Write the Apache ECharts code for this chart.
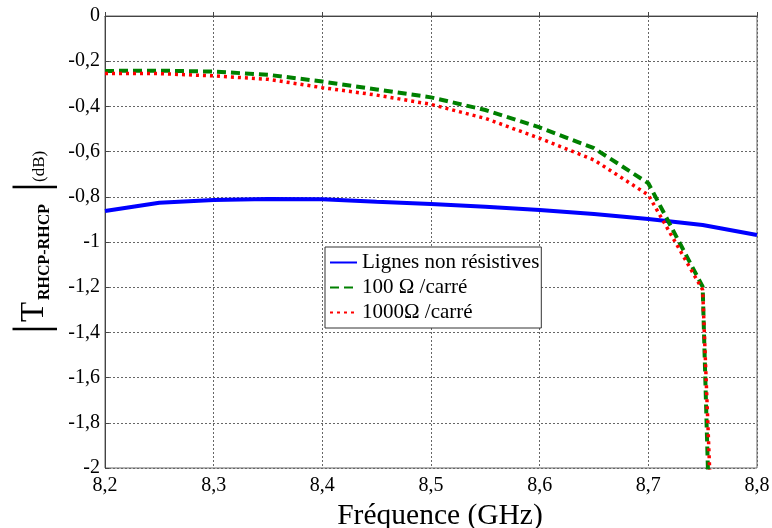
<!DOCTYPE html>
<html>
<head>
<meta charset="utf-8">
<script src="https://cdn.jsdelivr.net/npm/echarts@6/dist/echarts.min.js"></script>
<style>html,body{margin:0;padding:0;background:#fff}#c{width:772px;height:528px}</style>
</head>
<body>
<div id="c"></div>
<script>
var freq = [8.2, 8.25, 8.3, 8.35, 8.4, 8.45, 8.5, 8.55, 8.6, 8.65, 8.7, 8.75, 8.8];
var blueVals = [-0.863, -0.826, -0.814, -0.81, -0.811, -0.822, -0.832, -0.844, -0.858, -0.876, -0.898, -0.925, -0.969];
var freqRes = [8.2, 8.25, 8.3, 8.35, 8.4, 8.45, 8.5, 8.55, 8.6, 8.65, 8.7, 8.75];
var greenVals = [-0.243, -0.242, -0.246, -0.26, -0.29, -0.325, -0.36, -0.416, -0.493, -0.585, -0.74, -1.198];
var redVals = [-0.254, -0.255, -0.265, -0.28, -0.317, -0.35, -0.391, -0.453, -0.541, -0.637, -0.792, -1.212];
var greenTailFreq = 8.756, greenTailVal = -2.2;
var redTailFreq = 8.758, redTailVal = -2.2;
var seriesNames = ['Lignes non résistives', '100 Ω /carré', '1000Ω /carré'];
var xTitle = 'Fréquence (GHz)';

function pairs(xs, ys) { return xs.map(function (x, i) { return [x, ys[i]]; }); }
var blueData = pairs(freq, blueVals);
var greenData = pairs(freqRes, greenVals).concat([[greenTailFreq, greenTailVal]]);
var redData = pairs(freqRes, redVals).concat([[redTailFreq, redTailVal]]);

function fmt(v) { return String(Number(v.toFixed(1))).replace('.', ','); }

var serif = 'Liberation Serif';
var chart = echarts.init(document.getElementById('c'));
// y-axis title as rotated text group (local x runs along the text, local +y points to screen right)
var titleGroup = {
  type: 'group', x: 47, y: 330, rotation: Math.PI / 2,
  children: [
    { type: 'text', x: 1, y: -13, style: { text: '|', font: '48px ' + serif, fill: '#000', textAlign: 'center', textVerticalAlign: 'middle' } },
    { type: 'text', x: 8, y: 3.6, style: { text: 'T', font: '33px ' + serif, fill: '#000', textAlign: 'left', textVerticalAlign: 'bottom' } },
    { type: 'text', x: 30, y: 5.5, style: { text: 'RHCP-RHCP', font: 'bold 16px ' + serif, fill: '#000', textAlign: 'left', textVerticalAlign: 'bottom' } },
    { type: 'text', x: 143, y: -13, style: { text: '|', font: '48px ' + serif, fill: '#000', textAlign: 'center', textVerticalAlign: 'middle' } },
    { type: 'text', x: 148, y: 0.7, style: { text: '(dB)', font: '17px ' + serif, fill: '#000', textAlign: 'left', textVerticalAlign: 'bottom' } }
  ]
};

chart.setOption({
  animation: false,
  backgroundColor: '#fff',
  grid: { left: 105, right: 15, top: 16, bottom: 60, show: true, borderColor: '#666', borderWidth: 1,
          containLabel: false, outerBoundsMode: 'none' },
  legend: {
    left: 325, top: 247, orient: 'vertical',
    padding: [5, 2, 5, 4], itemGap: 4, itemWidth: 27, itemHeight: 14,
    backgroundColor: '#fff', borderColor: '#333', borderWidth: 1, borderRadius: 0,
    itemStyle: { opacity: 0, borderWidth: 0 },
    textStyle: { fontFamily: serif, fontSize: 21, color: '#000' },
    data: seriesNames
  },
  xAxis: {
    type: 'value', min: 8.2, max: 8.8, interval: 0.1,
    name: xTitle, nameLocation: 'middle', nameGap: 31,
    nameTextStyle: { fontFamily: serif, fontSize: 29.5, color: '#000', padding: [0, 0, 0, 18] },
    axisLine: { lineStyle: { color: '#444', width: 1 } },
    axisTick: { inside: true, length: 4, lineStyle: { color: '#444' } },
    axisLabel: { formatter: fmt, fontFamily: serif, fontSize: 20, color: '#000', margin: 8 },
    splitLine: { show: true, lineStyle: { color: '#666', type: [2, 2], width: 1 } }
  },
  yAxis: {
    type: 'value', min: -2, max: 0, interval: 0.2,
    axisLine: { show: true, lineStyle: { color: '#444', width: 1 } },
    axisTick: { show: true, inside: true, length: 4, lineStyle: { color: '#444' } },
    axisLabel: { formatter: fmt, fontFamily: serif, fontSize: 20, color: '#000', margin: 5 },
    splitLine: { show: true, lineStyle: { color: '#666', type: [2, 2], width: 1 } }
  },
  graphic: [titleGroup],
  series: [
    { name: seriesNames[0], type: 'line', data: blueData, symbol: 'none', smooth: false,
      lineStyle: { color: '#0000ff', width: 4 }, itemStyle: { color: '#0000ff' } },
    { name: seriesNames[1], type: 'line', data: greenData, symbol: 'none',
      lineStyle: { color: '#008000', width: 4, type: [9, 5] }, itemStyle: { color: '#008000' } },
    { name: seriesNames[2], type: 'line', data: redData, symbol: 'none',
      lineStyle: { color: '#ff0000', width: 3.5, type: [3, 4] }, itemStyle: { color: '#ff0000' } }
  ]
});
</script>
</body>
</html>
